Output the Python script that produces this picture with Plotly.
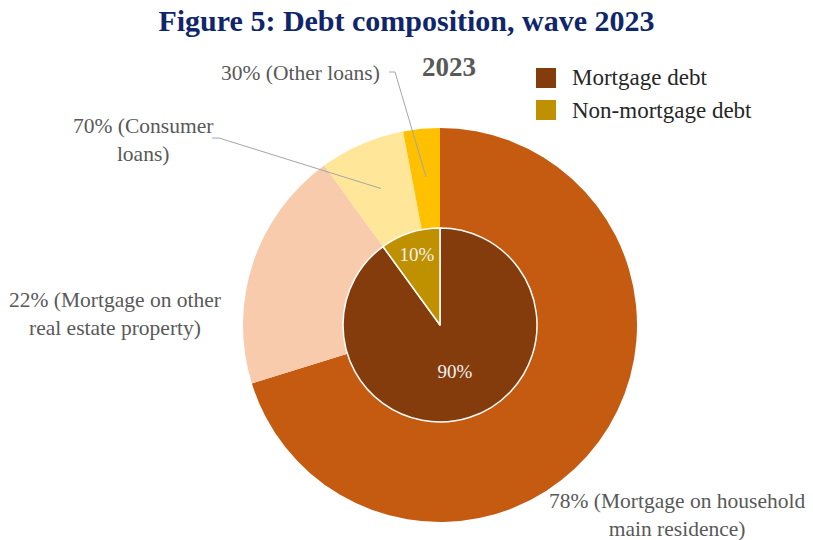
import math
import plotly.graph_objects as go

# Inner pie: share of total debt
inner_labels = ["Mortgage debt", "Non-mortgage debt"]
inner_values = [90, 10]
inner_colors = ["#843C0C", "#BF9000"]

# Outer ring: breakdown within each debt type (% of its parent)
outer_labels = [
    "Mortgage on household main residence",
    "Mortgage on other real estate property",
    "Consumer loans",
    "Other loans",
]
outer_parent = [0, 0, 1, 1]
outer_share = [78, 22, 70, 30]
outer_colors = ["#C55A11", "#F8CBAD", "#FFE699", "#FFC000"]
outer_text = [
    "78% (Mortgage on household<br>main residence)",
    "22% (Mortgage on other<br>real estate property)",
    "70% (Consumer<br>loans)",
    "30% (Other loans)",
]

W, H = 813, 540
CX, CY = 440, 325          # pie centre (px)
R_OUT, R_IN = 197, 97      # radii (px)
SERIF = "Liberation Serif"
GREY = "#595959"

outer_values = [inner_values[p] * s / 100 for p, s in zip(outer_parent, outer_share)]


def px(x):
    return x / W


def py(y):
    return 1 - y / H


def domain(r):
    return dict(x=[px(CX - r), px(CX + r)], y=[py(CY + r), py(CY - r)])


fig = go.Figure()
fig.add_trace(go.Pie(
    labels=outer_labels, values=outer_values, sort=False, direction="clockwise",
    rotation=0, marker=dict(colors=outer_colors, line=dict(width=0)),
    textinfo="none", hoverinfo="label+percent", showlegend=False,
    domain=domain(R_OUT),
))
fig.add_trace(go.Pie(
    labels=inner_labels, values=inner_values, sort=False, direction="clockwise",
    rotation=0, marker=dict(colors=inner_colors, line=dict(color="white", width=1.5)),
    textinfo="percent", textposition="inside", insidetextorientation="horizontal",
    insidetextfont=dict(family=SERIF, size=19, color="#F2F2F2"),
    hoverinfo="label+percent", showlegend=False,
    domain=domain(R_IN),
))

# Outer slice mid-angles (clockwise from 12 o'clock) for leader lines
total = sum(outer_values)
mids, acc = [], 0.0
for v in outer_values:
    mids.append((acc + v / 2) / total * 2 * math.pi)
    acc += v


def ring_point(i, frac=0.755):
    a = mids[i]
    return CX + frac * R_OUT * math.sin(a), CY - frac * R_OUT * math.cos(a)


# Label positions (px): centre x, centre y
label_pos = [(677, 515), (115, 314), (143, 140), (300, 73)]
annotations = []
for t, (lx, ly) in zip(outer_text, label_pos):
    annotations.append(dict(
        text=t, x=px(lx), y=py(ly), xref="paper", yref="paper",
        xanchor="center", yanchor="middle", showarrow=False, align="center",
        font=dict(family=SERIF, size=21.5, color=GREY),
    ))

shapes = []
# Leader lines for the two small non-mortgage slices
elbows = {2: [(212, 138), (219, 138)], 3: [(389, 72), (395, 72)]}
for i, pts in elbows.items():
    ex, ey = ring_point(i)
    path = "M {} {} L {} {} L {} {}".format(
        px(pts[0][0]), py(pts[0][1]), px(pts[1][0]), py(pts[1][1]), px(ex), py(ey))
    shapes.append(dict(type="path", path=path, xref="paper", yref="paper",
                       line=dict(color="#A6A6A6", width=1)))

# Legend
for k, (lab, col) in enumerate(zip(inner_labels, inner_colors)):
    yc = 78 + k * 32
    shapes.append(dict(type="rect", xref="paper", yref="paper",
                       x0=px(536), x1=px(556), y0=py(yc + 10), y1=py(yc - 10),
                       fillcolor=col, line=dict(width=0)))
    annotations.append(dict(
        text=lab, x=px(570), y=py(yc), xref="paper", yref="paper",
        xanchor="left", yanchor="middle", showarrow=False,
        font=dict(family=SERIF, size=23, color="#262626"),
    ))

# Pie subtitle
annotations.append(dict(
    text="<b>2023</b>", x=px(449), y=py(67), xref="paper", yref="paper",
    xanchor="center", yanchor="middle", showarrow=False,
    font=dict(family=SERIF, size=27, color=GREY),
))

fig.update_layout(
    width=W, height=H,
    margin=dict(l=0, r=0, t=0, b=0),
    paper_bgcolor="white", plot_bgcolor="white",
    title=dict(text="<b>Figure 5: Debt composition, wave 2023</b>",
               x=0.5, xanchor="center", y=py(20), yanchor="middle",
               yref="paper",
               font=dict(family=SERIF, size=30, color="#10266B")),
    annotations=annotations, shapes=shapes,
)

fig.write_html("out.html")
